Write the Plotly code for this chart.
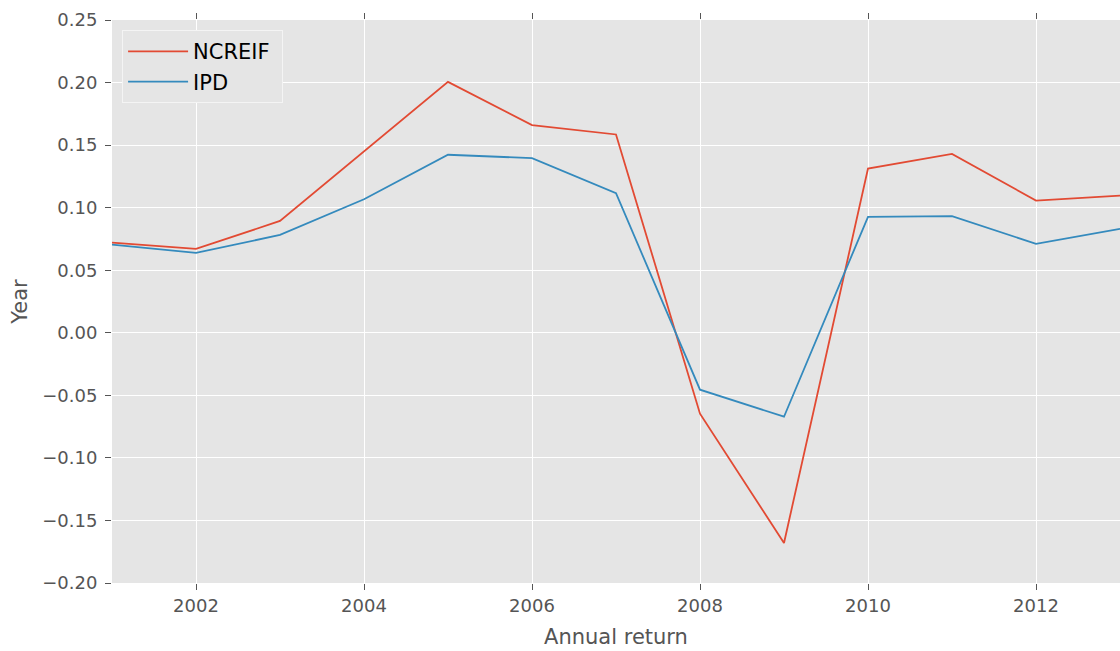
import plotly.graph_objects as go

years = [2001, 2002, 2003, 2004, 2005, 2006, 2007, 2008, 2009, 2010, 2011, 2012, 2013]
ncreif = [0.0721, 0.0670, 0.0894, 0.1446, 0.2005, 0.1660, 0.1585, -0.0647, -0.1680, 0.1312, 0.1430, 0.1057, 0.1097]
ipd = [0.0705, 0.0638, 0.0782, 0.1067, 0.1423, 0.1396, 0.1116, -0.0455, -0.0671, 0.0927, 0.0932, 0.0711, 0.0831]
y_ticks = [0.25, 0.20, 0.15, 0.10, 0.05, 0.00, -0.05, -0.10, -0.15, -0.20]
y_ticklabels = ["0.25", "0.20", "0.15", "0.10", "0.05", "0.00", "\u22120.05", "\u22120.10", "\u22120.15", "\u22120.20"]
x_ticks = [2002, 2004, 2006, 2008, 2010, 2012]

font_family = "DejaVu Sans"

fig = go.Figure()
fig.add_trace(go.Scatter(x=years, y=ncreif, mode="lines", name="NCREIF ",
                         line=dict(color="#E24A33", width=1.8)))
fig.add_trace(go.Scatter(x=years, y=ipd, mode="lines", name="IPD",
                         line=dict(color="#348ABD", width=1.8)))

fig.update_layout(
    width=1120, height=651,
    margin=dict(l=112, r=0, t=20, b=68),
    paper_bgcolor="white",
    plot_bgcolor="#E5E5E5",
    font=dict(family=font_family, color="#555555", size=18),
    showlegend=True,
    legend=dict(
        x=0.01, y=0.982, xanchor="left", yanchor="top",
        bgcolor="#E5E5E5", bordercolor="#F4F4F4", borderwidth=1,
        font=dict(family=font_family, size=21, color="black"),
        itemwidth=60,
    ),
)

fig.update_xaxes(
    range=[2001, 2013],
    tickvals=x_ticks,
    ticktext=[str(v) for v in x_ticks],
    showgrid=True, gridcolor="white", gridwidth=1,
    zeroline=False,
    ticks="outside", ticklen=6, tickcolor="#555555", tickwidth=1,
    mirror="ticks", showline=False,
    tickfont=dict(size=18, color="#555555"),
    title=dict(text="Annual return", font=dict(size=21, color="#555555"), standoff=14),
)
fig.update_yaxes(
    range=[-0.20, 0.25],
    tickvals=y_ticks,
    ticktext=y_ticklabels,
    showgrid=True, gridcolor="white", gridwidth=1,
    zeroline=False,
    ticks="outside", ticklen=6, tickcolor="#555555", tickwidth=1,
    mirror="ticks", showline=False,
    ticklabelstandoff=4,
    tickfont=dict(size=18, color="#555555"),
    title=dict(text="Year", font=dict(size=21, color="#555555"), standoff=8),
)

fig.write_html(
    "out.html",
    config={"displayModeBar": False},
    post_script="document.body.style.margin='0';document.body.style.overflow='hidden';",
)
